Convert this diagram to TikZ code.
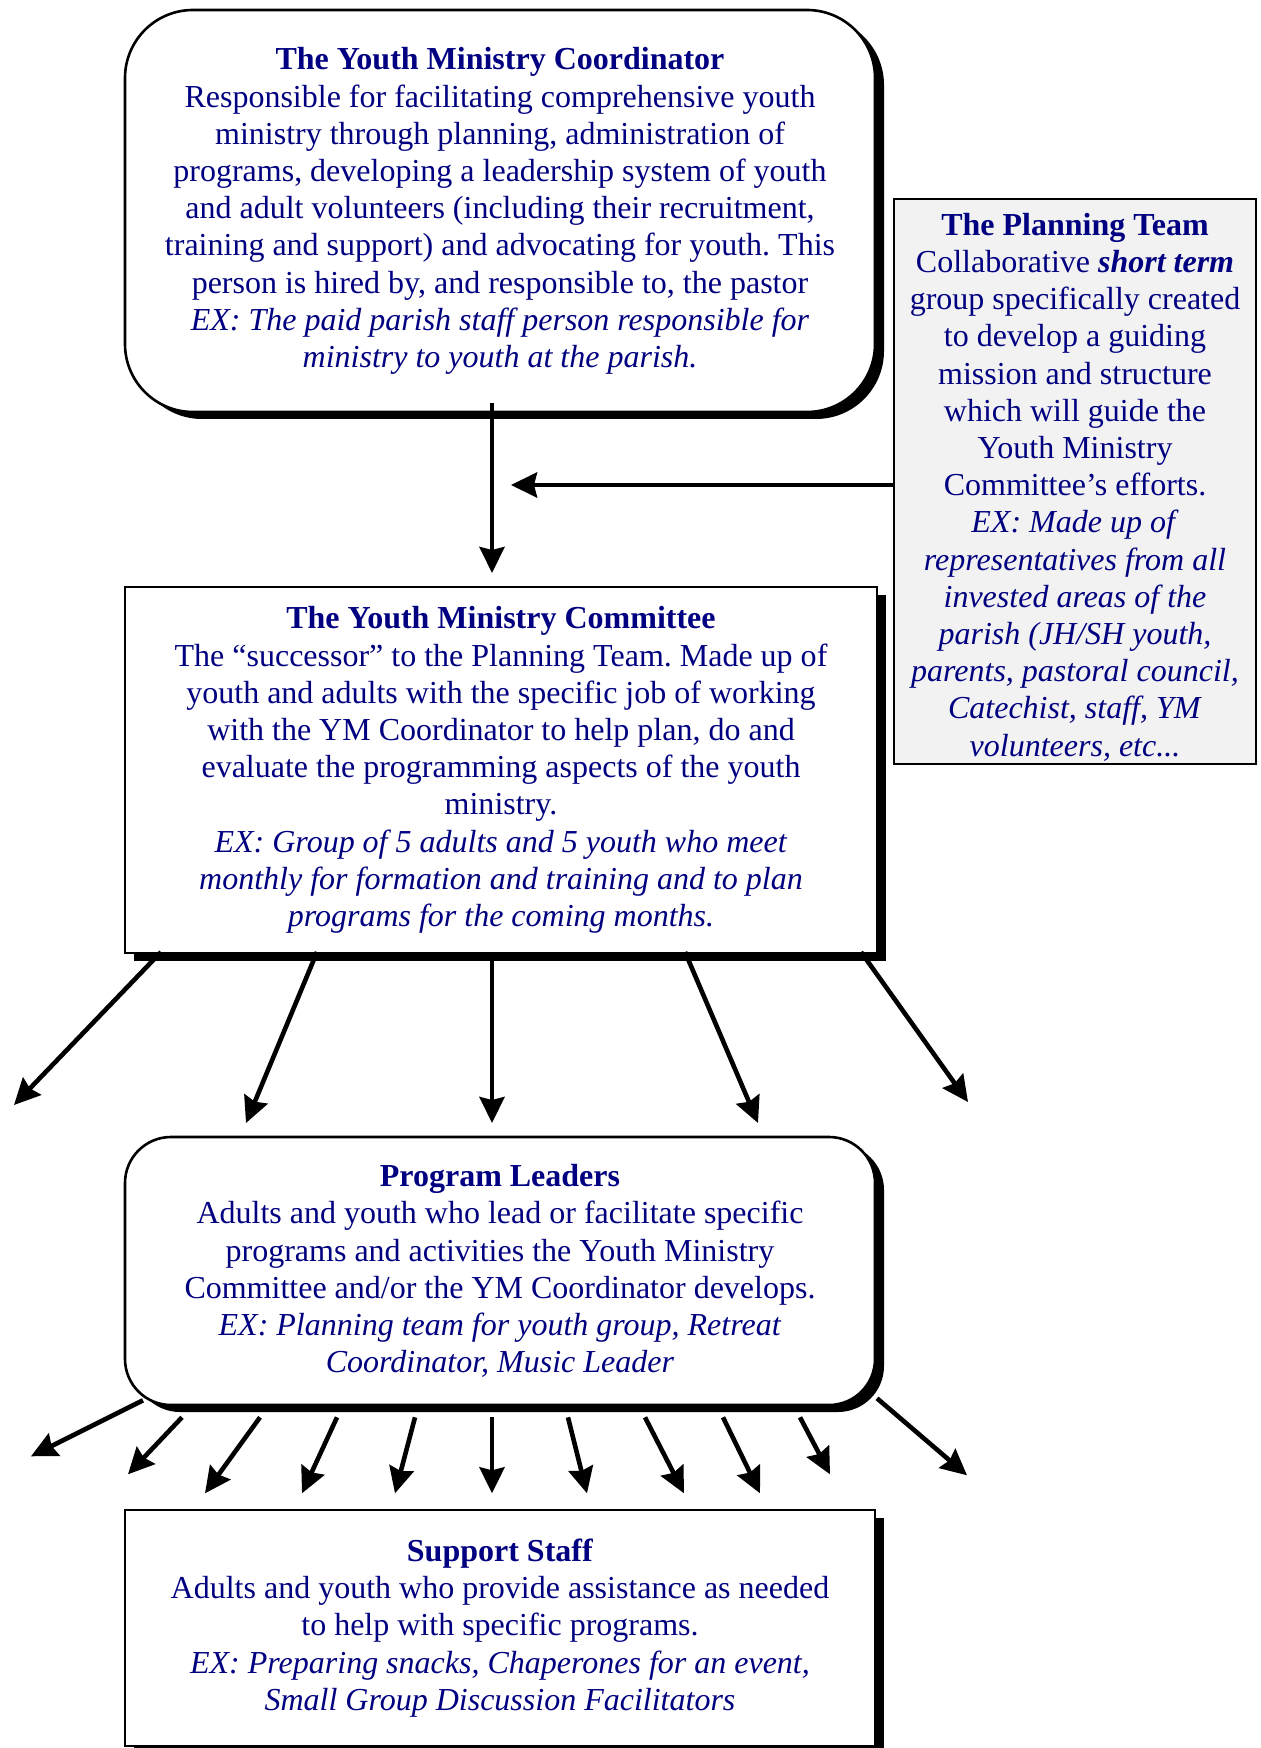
\documentclass[tikz,border=0pt]{standalone}
\usepackage{fontspec}
\setmainfont{Liberation Serif}
\usetikzlibrary{arrows.meta,calc,shadows}
\definecolor{navy}{RGB}{0,0,128}
\definecolor{pgray}{RGB}{242,242,242}
\frenchspacing
\begin{document}
\begin{tikzpicture}[x=0.5pt,y=-0.5pt,
  txt/.style={text=navy,align=center,font=\fontsize{16}{18.6}\selectfont,inner sep=0pt},
  roundbox/.style={txt,draw=black,fill=white,line width=1.3pt,
    general shadow={fill=black,shadow xshift=4.5pt,shadow yshift=-3.5pt}},
  squarebox/.style={txt,draw=black,fill=white,line width=1pt,
    general shadow={fill=black,shadow xshift=4.5pt,shadow yshift=-4pt}},
  planbox/.style={draw=black,fill=pgray,line width=1pt,inner sep=0pt},
  arr/.style={line width=2.3pt,-{Stealth[length=13pt,width=12.5pt,inset=1.5pt]}}
]
\useasboundingbox (0,0) rectangle (1260,1748);

\node[roundbox,rounded corners=34pt,minimum width=375pt,minimum height=201pt] (coord) at (500,211)
{\textbf{The Youth Ministry Coordinator}\\
Responsible for facilitating comprehensive youth\\
ministry through planning, administration of\\
programs, developing a leadership system of youth\\
and adult volunteers (including their recruitment,\\
training and support) and advocating for youth. This\\
person is hired by, and responsible to, the pastor\\
\textit{EX: The paid parish staff person responsible for}\\
\textit{ministry to youth at the parish.}};

\node[planbox,minimum width=181pt,minimum height=282.5pt] (plan) at (1075,481.5) {};
\node[txt] (plantext) at ($(plan.center)+(0,5.5)$)
{\textbf{The Planning Team}\\
Collaborative \textbf{\textit{short term}}\\
group specifically created\\
to develop a guiding\\
mission and structure\\
which will guide the\\
Youth Ministry\\
Committee’s efforts.\\
\textit{EX: Made up of}\\
\textit{representatives from all}\\
\textit{invested areas of the}\\
\textit{parish (JH/SH youth,}\\
\textit{parents, pastoral council,}\\
\textit{Catechist, staff, YM}\\
\textit{volunteers, etc...}};

\node[squarebox,minimum width=376pt,minimum height=183pt] (comm) at (501,770)
{\textbf{The Youth Ministry Committee}\\
The “successor” to the Planning Team. Made up of\\
youth and adults with the specific job of working\\
with the YM Coordinator to help plan, do and\\
evaluate the programming aspects of the youth\\
ministry.\\
\textit{EX: Group of 5 adults and 5 youth who meet}\\
\textit{monthly for formation and training and to plan}\\
\textit{programs for the coming months.}};

\node[roundbox,rounded corners=23pt,minimum width=375pt,minimum height=134pt] (lead) at (500,1271)
{\textbf{Program Leaders}\\
Adults and youth who lead or facilitate specific\\
programs and activities the Youth Ministry\\
Committee and/or the YM Coordinator develops.\\
\textit{EX: Planning team for youth group, Retreat}\\
\textit{Coordinator, Music Leader}};

\node[squarebox,minimum width=375pt,minimum height=118pt] (staff) at (500,1628)
{\textbf{Support Staff}\\
Adults and youth who provide assistance as needed\\
to help with specific programs.\\
\textit{EX: Preparing snacks, Chaperones for an event,}\\
\textit{Small Group Discussion Facilitators}};

% coordinator to committee
\draw[arr] ($(coord.south)+(-8,-10)$) -- ($(comm.north)+(-9,-13)$);
% planning team arrow
\draw[arr] ($(plan.west)+(0,3.5)$) -- ($(plan.west)+(-382,3.5)$);

% committee fan-out
\foreach \sx/\ex/\ey in {-340/-487/151,-184/-255/169,-9/-9/169,184/257/169,360/467/148}
  \draw[arr] ($(comm.south)+(\sx,-2)$) -- ($(comm.south)+(\ex,\ey)$);

% program leaders fan-out
\foreach \sx/\sy/\ex/\ey in {-357/-6/-469/50,-318/11/-372/68,-240/11/-295/87,-163/11/-198/87,
  -85/11/-105/87,-8/11/-8/87,68/11/87/87,145/11/184/87,223/11/260/87,300/11/330/68,377/-8/467/69}
  \draw[arr] ($(lead.south)+(\sx,\sy)$) -- ($(lead.south)+(\ex,\ey)$);
\end{tikzpicture}
\end{document}
